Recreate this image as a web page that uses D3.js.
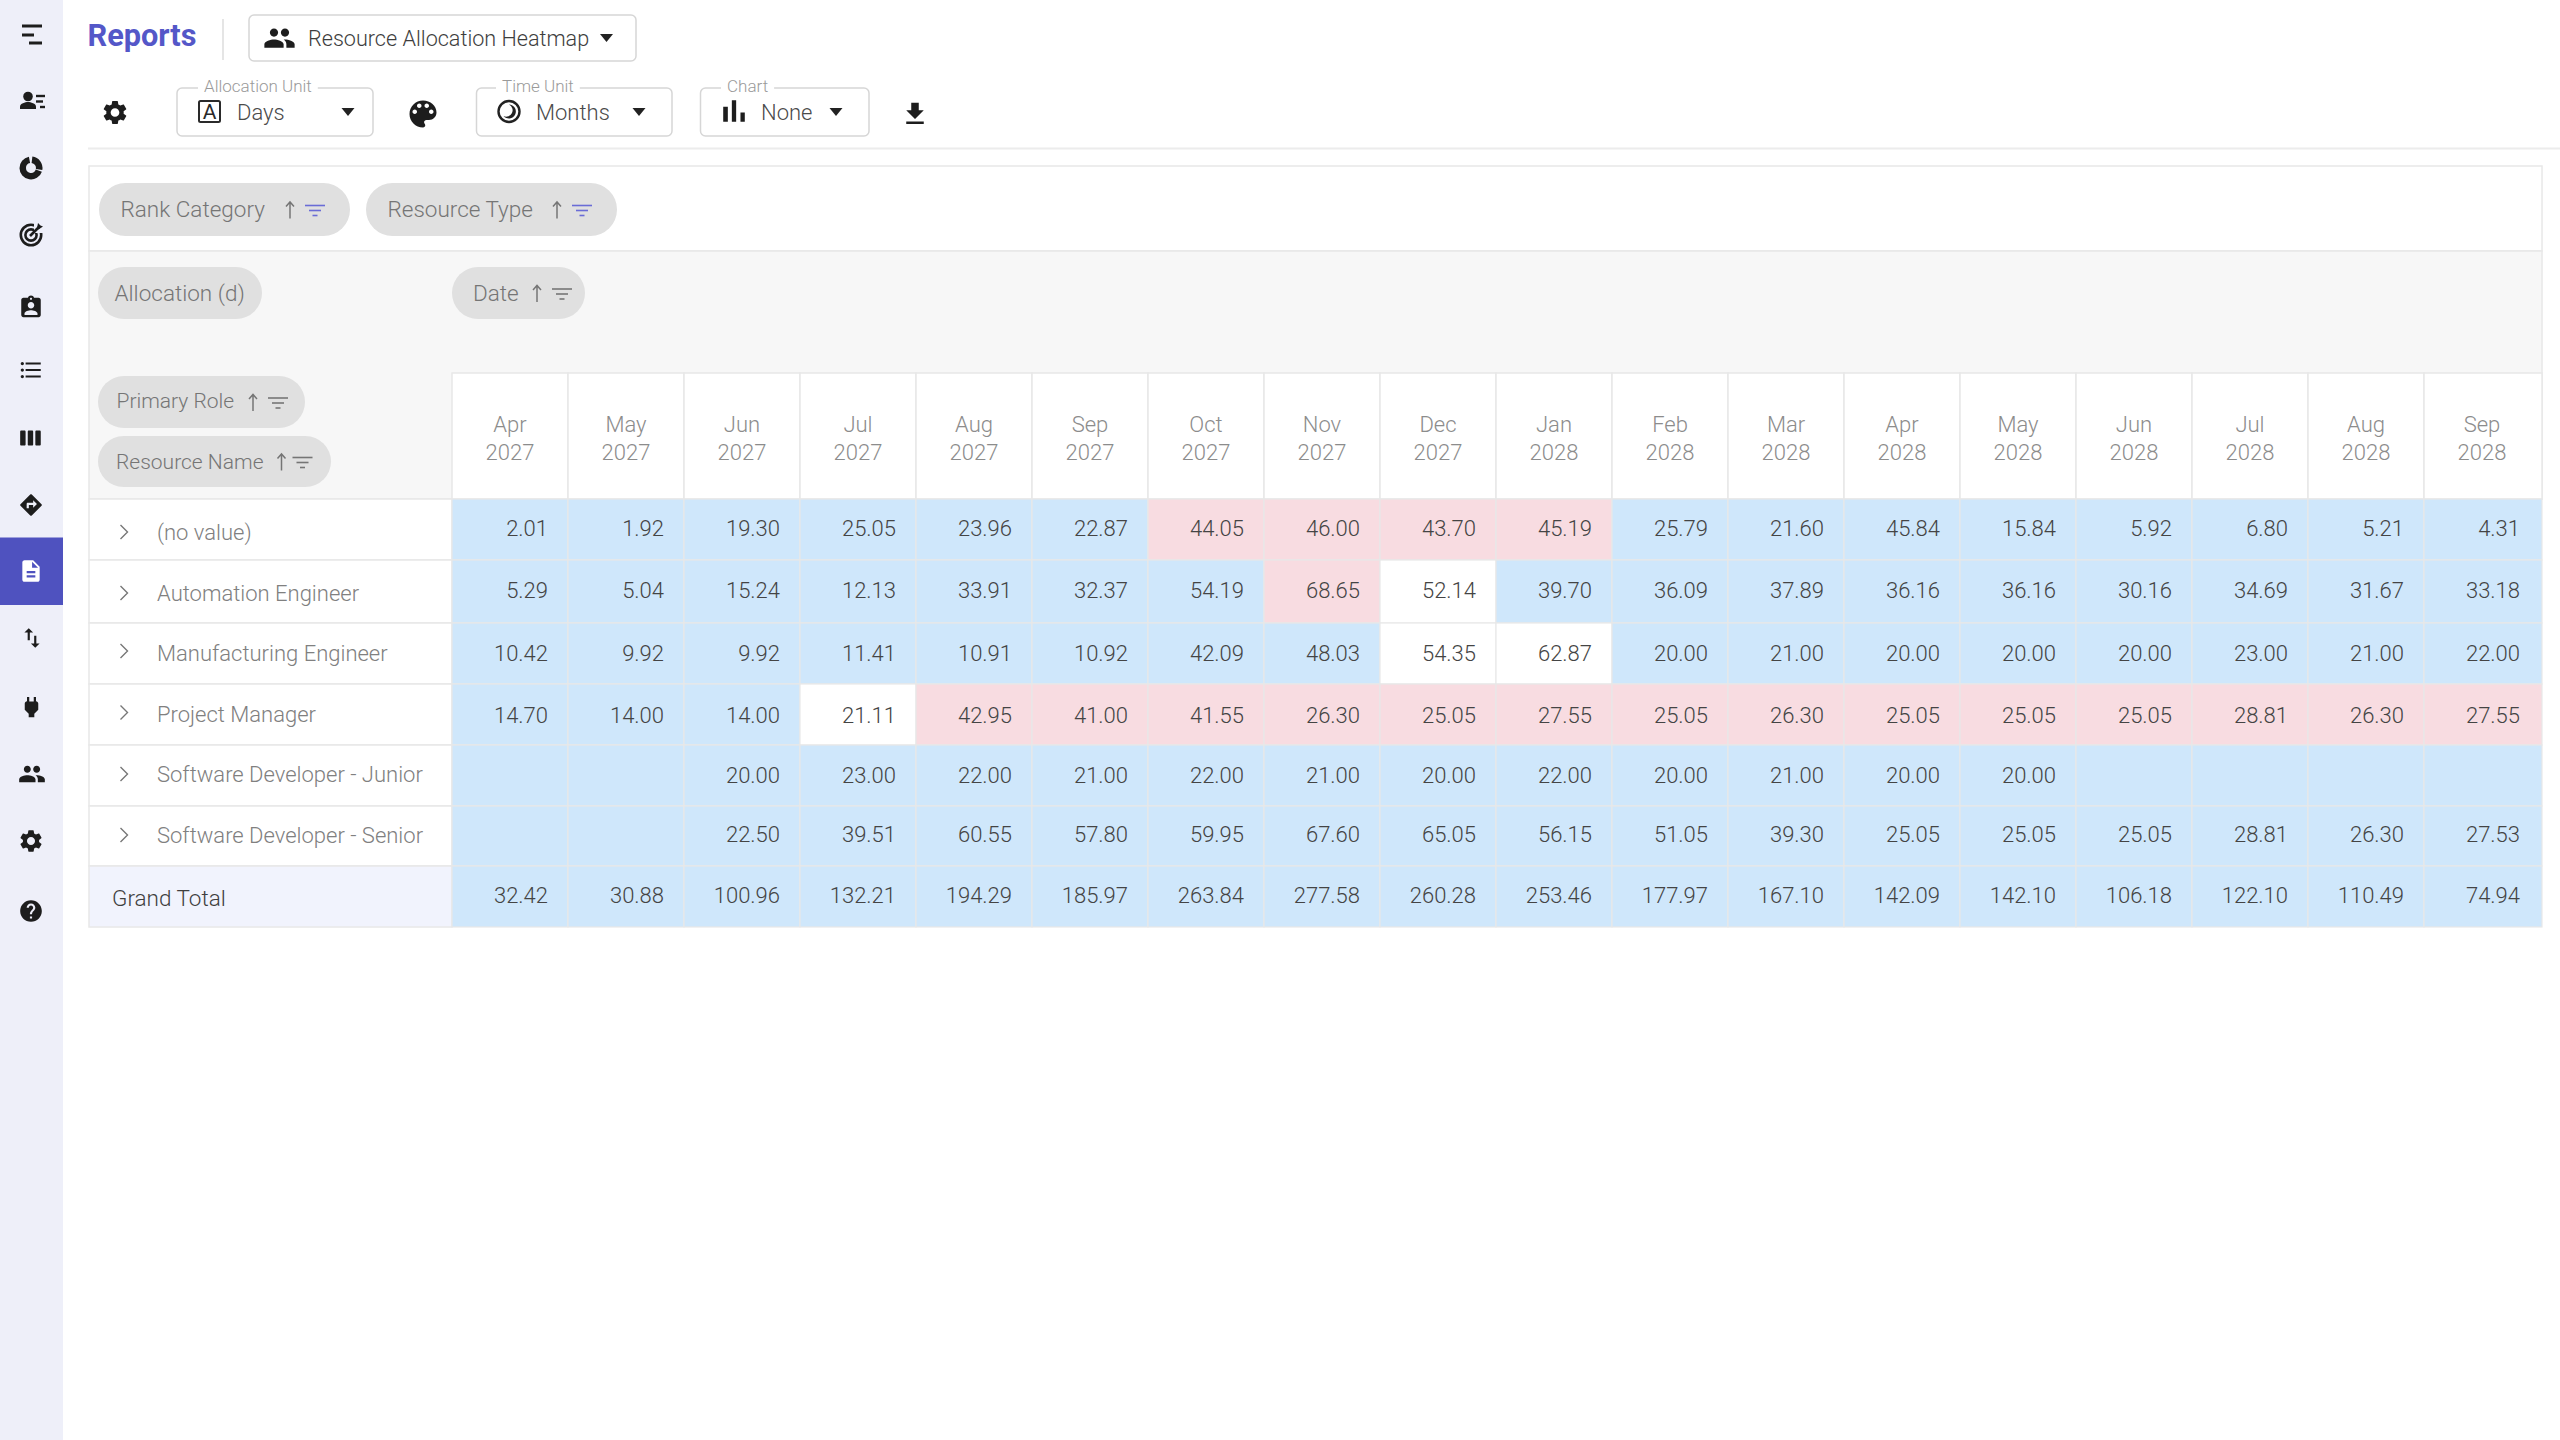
<!DOCTYPE html>
<html>
<head>
<meta charset="utf-8">
<title>Resource Allocation Heatmap</title>
<script src="https://cdn.jsdelivr.net/npm/d3@7"></script>
<style>
html,body{margin:0;padding:0;background:#fff;}
svg{display:block;}
text{font-family:Roboto,sans-serif;font-weight:300;}
</style>
</head>
<body>
<div id="chart"></div>
<script>
// ---------- data ----------
const months = ["Apr","May","Jun","Jul","Aug","Sep","Oct","Nov","Dec","Jan","Feb","Mar","Apr","May","Jun","Jul","Aug","Sep"];
const years = ["2027","2027","2027","2027","2027","2027","2027","2027","2027","2028","2028","2028","2028","2028","2028","2028","2028","2028"];
const rowNames = ["(no value)","Automation Engineer","Manufacturing Engineer","Project Manager","Software Developer - Junior","Software Developer - Senior","Grand Total"];
const noValue = [2.01,1.92,19.30,25.05,23.96,22.87,44.05,46.00,43.70,45.19,25.79,21.60,45.84,15.84,5.92,6.80,5.21,4.31];
const automation = [5.29,5.04,15.24,12.13,33.91,32.37,54.19,68.65,52.14,39.70,36.09,37.89,36.16,36.16,30.16,34.69,31.67,33.18];
const manufacturing = [10.42,9.92,9.92,11.41,10.91,10.92,42.09,48.03,54.35,62.87,20.00,21.00,20.00,20.00,20.00,23.00,21.00,22.00];
const projectManager = [14.70,14.00,14.00,21.11,42.95,41.00,41.55,26.30,25.05,27.55,25.05,26.30,25.05,25.05,25.05,28.81,26.30,27.55];
const devJunior = [null,null,20.00,23.00,22.00,21.00,22.00,21.00,20.00,22.00,20.00,21.00,20.00,20.00,null,null,null,null];
const devSenior = [null,null,22.50,39.51,60.55,57.80,59.95,67.60,65.05,56.15,51.05,39.30,25.05,25.05,25.05,28.81,26.30,27.53];
const grandTotal = [32.42,30.88,100.96,132.21,194.29,185.97,263.84,277.58,260.28,253.46,177.97,167.10,142.09,142.10,106.18,122.10,110.49,74.94];
const rowValues = [noValue,automation,manufacturing,projectManager,devJunior,devSenior,grandTotal];
// cell status: u = under, f = fully allocated (white), o = over
const noValueStatus = "uuuuuuoooouuuuuuuu".split("");
const automationStatus = "uuuuuuuofuuuuuuuuu".split("");
const manufacturingStatus = "uuuuuuuuffuuuuuuuu".split("");
const projectStatus = "uuufoooooooooooooo".split("");
const juniorStatus = "uuuuuuuuuuuuuuuuuu".split("");
const seniorStatus = "uuuuuuuuuuuuuuuuuu".split("");
const totalStatus = "uuuuuuuuuuuuuuuuuu".split("");
const rowStatus = [noValueStatus,automationStatus,manufacturingStatus,projectStatus,juniorStatus,seniorStatus,totalStatus];

const W = 2560, H = 1440;
const C = {side:"#eeeff9",active:"#4f52bf",line:"#e8e8e8",panel:"#f7f7f7",chip:"#e0e0e0",chipText:"#757575",head:"#8c8c8c",label:"#808080",num:"#444444",ink:"#1d1d1d",accent:"#6a6cd6",box:"#d6d6d6"};

const svg = d3.select("#chart").append("svg").attr("width",W).attr("height",H).attr("viewBox",[0,0,W,H]);

// ---------- scales ----------
const colKeys = months.map((m,i)=>m+" "+years[i]);
const xCol = d3.scaleBand().domain(colKeys).range([452,2540]);
const colWidth = d=>xCol.bandwidth()+(d===colKeys[colKeys.length-1]?2:0);
const yRow = d3.scaleOrdinal().domain(rowNames).range([499,560,623,684,745,806,866,927]);
const rowBottom = d3.scaleOrdinal().domain(rowNames).range([560,623,684,745,806,866,927]);
const yNum = d3.scaleOrdinal().domain(rowNames).range([528.5,590.5,653,715,775,834,895]);
const yLabel = d3.scaleOrdinal().domain(rowNames).range([532,593,653.5,714,774,835,898]);
const yChevron = d3.scaleOrdinal().domain(rowNames).range([532,593,651,712.5,774,835]);
const colour = d3.scaleOrdinal().domain(["u","f","o"]).range(["#cfe7fb","#ffffff","#f8dce1"]);

// ---------- helpers ----------
function txt(g,s,px,cy,size,fill,opt={}){
  return g.append("text").text(s).attr("x",px).attr("y",cy).attr("dy","0.355em")
    .attr("font-size",size).attr("fill",fill)
    .attr("text-anchor",opt.anchor||"start").style("font-weight",opt.weight||300);
}
function icon(g,d,cx,cy,size,fill){
  return g.append("path").attr("d",d).attr("fill",fill||C.ink).attr("fill-rule","evenodd")
    .attr("transform",`translate(${cx-size/2},${cy-size/2}) scale(${size/24})`);
}
function caret(g,cx,cy){
  const p=d3.path();p.moveTo(cx-6.5,cy-4);p.lineTo(cx+6.5,cy-4);p.lineTo(cx,cy+4);p.closePath();
  g.append("path").attr("d",p.toString()).attr("fill","#222");
}
const I = {
 gear:"M19.14,12.94c0.04-0.3,0.06-0.61,0.06-0.94c0-0.32-0.02-0.64-0.07-0.94l2.03-1.58c0.18-0.14,0.23-0.41,0.12-0.61l-1.92-3.32c-0.12-0.22-0.37-0.29-0.59-0.22l-2.39,0.96c-0.5-0.38-1.03-0.7-1.62-0.94L14.4,2.81c-0.04-0.24-0.24-0.41-0.48-0.41h-3.84c-0.24,0-0.43,0.17-0.47,0.41L9.25,5.35C8.66,5.59,8.12,5.92,7.63,6.29L5.24,5.33c-0.22-0.08-0.47,0-0.59,0.22L2.74,8.87C2.62,9.08,2.66,9.34,2.86,9.48l2.03,1.58C4.84,11.36,4.8,11.69,4.8,12s0.02,0.64,0.07,0.94l-2.03,1.58c-0.18,0.14-0.23,0.41-0.12,0.61l1.92,3.32c0.12,0.22,0.37,0.29,0.59,0.22l2.39-0.96c0.5,0.38,1.03,0.7,1.62,0.94l0.36,2.54c0.05,0.24,0.24,0.41,0.48,0.41h3.84c0.24,0,0.44-0.17,0.47-0.41l0.36-2.54c0.59-0.24,1.13-0.56,1.62-0.94l2.39,0.96c0.22,0.08,0.47,0,0.59-0.22l1.92-3.32c0.12-0.22,0.07-0.47-0.12-0.61L19.14,12.94z M12,15.6c-1.98,0-3.6-1.62-3.6-3.6s1.62-3.6,3.6-3.6s3.6,1.62,3.6,3.6S13.98,15.6,12,15.6z",
 people:"M16 11c1.66 0 2.99-1.34 2.99-3S17.66 5 16 5c-1.66 0-3 1.34-3 3s1.34 3 3 3zm-8 0c1.66 0 2.99-1.34 2.99-3S9.66 5 8 5C6.34 5 5 6.34 5 8s1.34 3 3 3zm0 2c-2.33 0-7 1.17-7 3.5V19h14v-2.5c0-2.33-4.67-3.5-7-3.5zm8 0c-.29 0-.62.02-.97.05 1.16.84 1.97 1.97 1.97 3.45V19h6v-2.5c0-2.33-4.67-3.5-7-3.5z",
 palette:"M12 3c-4.97 0-9 4.03-9 9s4.03 9 9 9c.83 0 1.5-.67 1.5-1.5 0-.39-.15-.74-.39-1.01-.23-.26-.38-.61-.38-.99 0-.83.67-1.5 1.5-1.5H16c2.76 0 5-2.24 5-5 0-4.42-4.03-8-9-8zm-5.5 9c-.83 0-1.5-.67-1.5-1.5S5.67 9 6.5 9 8 9.67 8 10.5 7.33 12 6.5 12zm3-4C8.67 8 8 7.33 8 6.5S8.67 5 9.5 5s1.5.67 1.5 1.5S10.33 8 9.5 8zm5 0c-.83 0-1.5-.67-1.5-1.5S13.67 5 14.5 5s1.5.67 1.5 1.5S15.33 8 14.5 8zm3 4c-.83 0-1.5-.67-1.5-1.5S16.67 9 17.5 9s1.5.67 1.5 1.5-.67 1.5-1.5 1.5z",
 download:"M19 9h-4V3H9v6H5l7 7 7-7zM5 18v2h14v-2H5z",
 bars:"M5 9.2h3V19H5zM10.6 5h2.8v14h-2.8zm5.6 8H19v6h-2.8z",
 week:"M6 5H3c-.55 0-1 .45-1 1v12c0 .55.45 1 1 1h3c.55 0 1-.45 1-1V6c0-.55-.45-1-1-1zm14 0h-3c-.55 0-1 .45-1 1v12c0 .55.45 1 1 1h3c.55 0 1-.45 1-1V6c0-.55-.45-1-1-1zm-7 0h-3c-.55 0-1 .45-1 1v12c0 .55.45 1 1 1h3c.55 0 1-.45 1-1V6c0-.55-.45-1-1-1z",
 list:"M4 10.5c-.83 0-1.5.67-1.5 1.5s.67 1.5 1.5 1.5 1.5-.67 1.5-1.5-.67-1.5-1.5-1.5zm0-6c-.83 0-1.5.67-1.5 1.5S3.17 7.5 4 7.5 5.5 6.83 5.5 6 4.83 4.5 4 4.5zm0 12c-.83 0-1.5.68-1.5 1.5s.68 1.5 1.5 1.5 1.5-.68 1.5-1.5-.67-1.5-1.5-1.5zM7 19h14v-2H7v2zm0-6h14v-2H7v2zm0-8v2h14V5H7z",
 doc:"M14 2H6c-1.1 0-1.99.9-1.99 2L4 20c0 1.1.89 2 1.99 2H18c1.1 0 2-.9 2-2V8l-6-6zm2 16H8v-2h8v2zm0-4H8v-2h8v2zm-3-5V3.5L18.5 9H13z",
 help:"M12 2C6.48 2 2 6.48 2 12s4.48 10 10 10 10-4.48 10-10S17.52 2 12 2zm1 17h-2v-2h2v2zm2.07-7.75l-.9.92C13.45 12.9 13 13.5 13 15h-2v-.5c0-1.1.45-2.1 1.17-2.83l1.24-1.26c.37-.36.59-.86.59-1.41 0-1.1-.9-2-2-2s-2 .9-2 2H8c0-2.21 1.79-4 4-4s4 1.79 4 4c0 .88-.36 1.68-.93 2.25z",
 plug:"M16.01 7L16 3h-2v4h-4V3H8v4h-.01C7 6.99 6 7.99 6 8.99v5.49L9.5 18v3h5v-3l3.5-3.51v-5.5c0-1-1-2-1.99-1.99z",
 route:"M21.71 11.29l-9-9c-.39-.39-1.02-.39-1.41 0l-9 9c-.39.39-.39 1.02 0 1.41l9 9c.39.39 1.02.39 1.41 0l9-9c.39-.38.39-1.01 0-1.41zM14 14.5V12h-4v3H8v-4c0-.55.45-1 1-1h5V7.5l3.5 3.5-3.5 3.5z",
 swap:"M16 17.01V10h-2v7.01h-3L15 21l4-3.99h-3zM9 3L5 6.99h3V14h2V6.99h3L9 3z",
 badge:"M19 3h-4.18C14.4 1.84 13.3 1 12 1c-1.3 0-2.4.84-2.82 2H5c-1.1 0-2 .9-2 2v14c0 1.1.9 2 2 2h14c1.1 0 2-.9 2-2V5c0-1.1-.9-2-2-2zm-7 0c.55 0 1 .45 1 1s-.45 1-1 1-1-.45-1-1 .45-1 1-1zm0 4c1.66 0 3 1.34 3 3s-1.34 3-3 3-3-1.34-3-3 1.34-3 3-3zm6 12H6v-1.4c0-2 4-3.1 6-3.1s6 1.1 6 3.1V19z"
};

// ---------- sidebar ----------
const side = svg.append("g");
side.append("rect").attr("width",63).attr("height",H).attr("fill",C.side);
side.append("rect").attr("y",537.5).attr("width",63).attr("height",67.5).attr("fill",C.active);
[[22,42,26],[22,34,35],[29,42,43]].forEach(l=>side.append("line").attr("x1",l[0]).attr("x2",l[1]).attr("y1",l[2]).attr("y2",l[2]).attr("stroke",C.ink).attr("stroke-width",3));
// person with lines
side.append("circle").attr("cx",28).attr("cy",96.5).attr("r",4.8).attr("fill",C.ink);
side.append("path").attr("d","M20 109v-2.5c0-3 5.3-4.5 8-4.5s8 1.5 8 4.5V109z").attr("fill",C.ink);
[[36,45,96],[36,43,101.5],[40,45,107]].forEach(l=>side.append("line").attr("x1",l[0]).attr("x2",l[1]).attr("y1",l[2]).attr("y2",l[2]).attr("stroke",C.ink).attr("stroke-width",2.4));
// donut
const arc = d3.arc().innerRadius(5).outerRadius(11.5);
[[0.12,1.75],[1.9,6.1]].forEach(a=>side.append("path").attr("d",arc({startAngle:a[0],endAngle:a[1]})).attr("transform","translate(31,168)").attr("fill",C.ink));
// target
const tg = side.append("g").attr("transform","translate(31,235)");
[10.2,5.6].forEach(r=>tg.append("circle").attr("r",r).attr("fill","none").attr("stroke",C.ink).attr("stroke-width",2.6));
tg.append("path").attr("d","M3 -13 L14 -13 L14 -2 L3 -2Z").attr("fill",C.side);
tg.append("line").attr("x1",-1).attr("y1",1).attr("x2",8).attr("y2",-8).attr("stroke",C.ink).attr("stroke-width",2.6);
tg.append("path").attr("d","M6 -7 L7 -12 L9.5 -9.5 L12 -8.5 L7.5 -5.5Z").attr("fill",C.ink);
icon(side,I.badge,31,307.5,26);
icon(side,I.list,31,370,26);
icon(side,I.week,31,438,26);
icon(side,I.route,31,505,26);
icon(side,I.doc,31,571,26,"#ffffff");
icon(side,I.swap,32,638,26);
icon(side,I.plug,31.5,707,27);
icon(side,I.people,32,774,28);
icon(side,I.gear,31,841,27);
icon(side,I.help,31,911,26);

// ---------- top bar ----------
const bar = svg.append("g");
txt(bar,"Reports",87.5,35,30.7,"#5457c8",{weight:700});
bar.append("line").attr("x1",223).attr("x2",223).attr("y1",19).attr("y2",60).attr("stroke","#dcdcdc").attr("stroke-width",1.5);
bar.append("rect").attr("x",249).attr("y",15).attr("width",387).attr("height",46).attr("rx",5).attr("fill","#fff").attr("stroke",C.box).attr("stroke-width",1.5);
icon(bar,I.people,279.5,38,33);
txt(bar,"Resource Allocation Heatmap",308,38,21.6,"#3d3d3d");
caret(bar,606.5,38);

function dropdown(x0,x1,label,lx,value,vx,cx){
  bar.append("rect").attr("x",x0).attr("y",88).attr("width",x1-x0).attr("height",48).attr("rx",5).attr("fill","#fff").attr("stroke",C.box).attr("stroke-width",1.5);
  const t = txt(bar,label,lx,86,17,"#9a9a9a");
  const w = t.node().getComputedTextLength();
  bar.append("rect").attr("x",lx-6).attr("y",84).attr("width",w+12).attr("height",8).attr("fill","#fff");
  t.raise();
  txt(bar,value,vx,112.5,22,"#4a4a4a");
  caret(bar,cx,112);
}
icon(bar,I.gear,115,112.5,29);
dropdown(177,373,"Allocation Unit",204,"Days",237,348);
bar.append("rect").attr("x",199).attr("y",101).attr("width",21).attr("height",21).attr("rx",1.5).attr("fill","none").attr("stroke","#2a2a2a").attr("stroke-width",2);
txt(bar,"A",209.5,111.5,21,"#2a2a2a",{anchor:"middle",weight:400});
icon(bar,I.palette,423,114,36);
dropdown(476.5,672,"Time Unit",502,"Months",536,639);
bar.append("circle").attr("cx",509).attr("cy",111.5).attr("r",10.5).attr("fill","none").attr("stroke","#222").attr("stroke-width",2.4);
bar.append("path").attr("d","M509 104.5A7 7 0 1 1 503.5 116A6 6 0 0 0 509 104.5Z").attr("fill","#222");
dropdown(700.5,869,"Chart",727,"None",761,836);
icon(bar,I.bars,734,111,37);
icon(bar,I.download,915,114,30);
bar.append("line").attr("x1",88).attr("x2",W).attr("y1",148.5).attr("y2",148.5).attr("stroke","#ececec").attr("stroke-width",2);

// ---------- panels ----------
const grid = svg.append("g");
grid.append("rect").attr("x",89).attr("y",166).attr("width",2453).attr("height",85).attr("fill","#fff").attr("stroke",C.line).attr("stroke-width",1.5);
grid.append("rect").attr("x",89).attr("y",251).attr("width",2453).attr("height",248).attr("fill",C.panel).attr("stroke",C.line).attr("stroke-width",1.5);

// ---------- chips ----------
function chip(x0,x1,y0,y1,label,tx,size,dyText,ax,fx,filterColour){
  const cy=(y0+y1)/2;
  grid.append("rect").attr("x",x0).attr("y",y0).attr("width",x1-x0).attr("height",y1-y0).attr("rx",(y1-y0)/2).attr("fill",C.chip);
  txt(grid,label,tx,cy+dyText,size,C.chipText);
  if(ax==null) return;
  grid.append("path").attr("d",`M${ax} ${cy+9}V${cy-7}M${ax-4} ${cy-3}L${ax} ${cy-7.5}L${ax+4} ${cy-3}`).attr("fill","none").attr("stroke",C.chipText).attr("stroke-width",1.5);
  [[0,20,-4],[4,16,1],[7.5,12.5,6]].forEach(l=>grid.append("line").attr("x1",fx+l[0]).attr("x2",fx+l[1]).attr("y1",cy+l[2]).attr("y2",cy+l[2]).attr("stroke",filterColour).attr("stroke-width",1.6));
}
chip(99,350,183,236,"Rank Category",120.5,22.5,0,290,305,C.accent);
chip(366,617,183,236,"Resource Type",387.5,22.5,0,557,572,C.accent);
chip(98,262,267,319,"Allocation (d)",114.5,22.5,0);
chip(452,585,267,319,"Date",473,22.5,0,537,552,"#757575");
chip(98,305,376,428,"Primary Role",116.5,21,-1,253,268,"#757575");
chip(98,331,436,487,"Resource Name",116,21,0,281.5,292.5,"#757575");

// ---------- column headers ----------
const headG = svg.append("g");
headG.selectAll("rect").data(colKeys).join("rect")
  .attr("x",d=>xCol(d)).attr("y",373).attr("width",colWidth).attr("height",126)
  .attr("fill","#fff").attr("stroke",C.line).attr("stroke-width",1.5);
headG.selectAll("text.m").data(months).join("text").attr("class","m")
  .text(d=>d).attr("x",(d,i)=>xCol(colKeys[i])+xCol.bandwidth()/2).attr("y",424.5).attr("dy","0.355em")
  .attr("text-anchor","middle").attr("font-size",22).attr("fill",C.head);
headG.selectAll("text.yr").data(years).join("text").attr("class","yr")
  .text(d=>d).attr("x",(d,i)=>xCol(colKeys[i])+xCol.bandwidth()/2).attr("y",452).attr("dy","0.355em")
  .attr("text-anchor","middle").attr("font-size",22).attr("fill",C.head);

// ---------- row headers ----------
const rowG = svg.append("g");
rowG.selectAll("rect").data(rowNames).join("rect")
  .attr("x",89).attr("y",d=>yRow(d)).attr("width",363).attr("height",d=>rowBottom(d)-yRow(d))
  .attr("fill",d=>d==="Grand Total"?"#f1f3fd":"#fff").attr("stroke",C.line).attr("stroke-width",1.5);
rowG.selectAll("text").data(rowNames).join("text")
  .text(d=>d).attr("x",d=>d==="Grand Total"?112:157).attr("y",d=>yLabel(d)).attr("dy","0.355em")
  .attr("font-size",d=>d==="Grand Total"?22.5:22).attr("fill",d=>d==="Grand Total"?"#3f3f3f":C.label);
rowG.selectAll("path").data(rowNames.slice(0,6)).join("path")
  .attr("d",d=>`M120.5 ${yChevron(d)-7}L127.5 ${yChevron(d)}L120.5 ${yChevron(d)+7}`)
  .attr("fill","none").attr("stroke","#777").attr("stroke-width",1.4);

// ---------- heatmap cells ----------
const cells = rowNames.flatMap((r,ri)=>colKeys.map((c,ci)=>({row:r,col:c,value:rowValues[ri][ci],status:rowStatus[ri][ci]})));
const cellG = svg.append("g");
cellG.selectAll("rect").data(cells).join("rect")
  .attr("x",d=>xCol(d.col)).attr("y",d=>yRow(d.row)).attr("width",d=>colWidth(d.col)).attr("height",d=>rowBottom(d.row)-yRow(d.row))
  .attr("fill",d=>colour(d.status)).attr("stroke",C.line).attr("stroke-width",1.2);
cellG.selectAll("text").data(cells.filter(d=>d.value!=null)).join("text")
  .text(d=>d3.format(".2f")(d.value))
  .attr("x",d=>xCol(d.col)+xCol.bandwidth()-20).attr("y",d=>yNum(d.row)).attr("dy","0.355em")
  .attr("text-anchor","end").attr("font-size",22).attr("fill",C.num);
</script>
</body>
</html>
